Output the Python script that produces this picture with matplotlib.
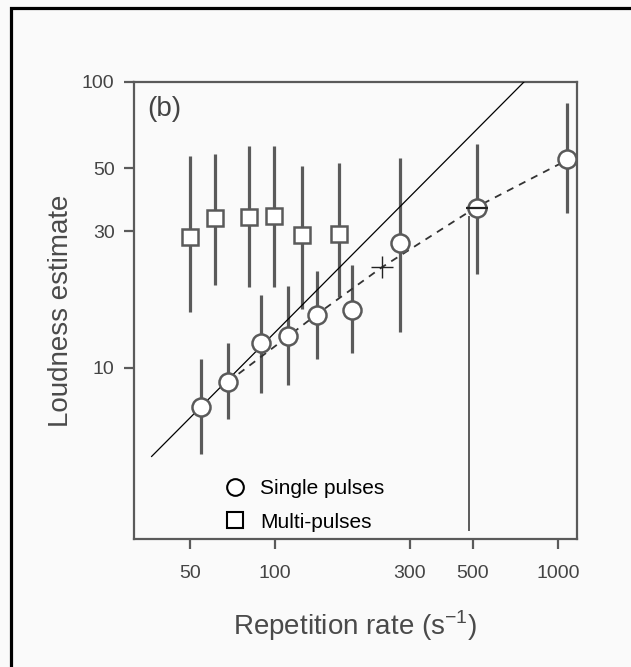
import matplotlib
matplotlib.use("Agg")
import matplotlib.pyplot as plt
from matplotlib.lines import Line2D
from matplotlib.patches import Rectangle
import numpy as np

plt.rcParams["font.family"] = ["Liberation Sans", "DejaVu Sans"]
plt.rcParams["mathtext.fontset"] = "custom"
plt.rcParams["mathtext.rm"] = "Liberation Sans"

# multi-pulse data (squares)
multi_x = [50, 61.4, 81, 99, 124.5, 168]
multi_y = [28.7, 33.4, 33.7, 34, 29.2, 29.4]
multi_lo = [15.7, 19.5, 19.2, 19.2, 16.1, 17.7]
multi_hi = [55, 56, 59.7, 59.7, 50.8, 52]

# single-pulse data (circles)
single_x = [54.8, 68.2, 89.2, 111, 140.7, 187, 277, 517, 1077]
single_y = [7.3, 8.93, 12.2, 12.9, 15.3, 16, 27.3, 36.2, 53.9]
single_lo = [5.0, 6.64, 8.2, 8.73, 10.7, 11.3, 13.4, 21.3, 34.8]
single_hi = [10.7, 12.2, 18, 19.4, 21.8, 22.9, 54.2, 60.7, 84.5]

# proportional line and dashed fit
line_x = [36.7, 758]
line_y = [4.9, 100]
fit_x = [68.2, 110.3, 139.6, 239, 517, 1076]
fit_y = [8.93, 12.8, 15.3, 22.5, 36.6, 53.3]

cross_x, cross_y = 239, 22.5
vline_x, vline_lo, vline_hi = 485, 2.72, 33.7

xticks = [50, 100, 300, 500, 1000]
yticks = [10, 30, 50, 100]

grey = "#5a5a5a"

fig = plt.figure(figsize=(6.31, 6.67), dpi=100, facecolor="#fafafa")
ax = fig.add_axes([134/631, 1-539/667, 443/631, 457/667])
ax.set_facecolor("#fafafa")
ax.set_xscale("log")
ax.set_yscale("log")
ax.set_xlim(31.8, 1167)
ax.set_ylim(2.52, 100)

# error bars
s_y = np.array(single_y)
m_y = np.array(multi_y)
ax.errorbar(multi_x, multi_y, yerr=[m_y - multi_lo, np.array(multi_hi) - m_y],
            fmt="none", ecolor=grey, elinewidth=2.3, capsize=0, zorder=2)
ax.errorbar(single_x, single_y, yerr=[s_y - single_lo, np.array(single_hi) - s_y],
            fmt="none", ecolor=grey, elinewidth=2.3, capsize=0, zorder=2)

ax.plot(line_x, line_y, color="black", lw=0.9, zorder=3)
ax.plot(fit_x, fit_y, color="#333333", lw=1.3, ls=(0, (4, 3.5)), zorder=3)
ax.plot([vline_x, vline_x], [vline_lo, vline_hi], color=grey, lw=1.4, zorder=2)

ax.plot(multi_x, multi_y, "s", ms=12, mfc="white", mec=grey, mew=1.8, zorder=4)
ax.plot(single_x, single_y, "o", ms=13, mfc="white", mec=grey, mew=1.8, zorder=4)
ax.plot([cross_x], [cross_y], "+", ms=16, color="#222222", mew=1.0, zorder=5)
ax.plot([single_x[7]], [single_y[7]], "_", ms=16, color="#222222", mew=1.6, zorder=5)

for sp in ax.spines.values():
    sp.set_color(grey)
    sp.set_linewidth(1.6)

ax.set_xticks(xticks)
ax.set_xticklabels([str(t) for t in xticks])
ax.set_yticks(yticks)
ax.set_yticklabels([str(t) for t in yticks])
ax.minorticks_off()
ax.tick_params(axis="both", direction="out", length=7, width=1.6, color=grey,
               labelsize=14, labelcolor="#444444")
ax.tick_params(axis="x", pad=12)
ax.tick_params(axis="y", pad=7)

ax.set_xlabel("Repetition rate (s$^{\\mathregular{-1}}$)", fontsize=20, color="#4a4a4a", labelpad=19)
ax.set_ylabel("Loudness estimate", fontsize=20, color="#4a4a4a", labelpad=6)

ax.text(0.031, 0.94, "(b)", transform=ax.transAxes, fontsize=20, color="#444444",
        ha="left", va="center")

handles = [Line2D([], [], ls="none", marker="o", ms=12, mfc="white", mec="black", mew=1.5),
           Line2D([], [], ls="none", marker="s", ms=12, mfc="white", mec="black", mew=1.5)]
ax.legend(handles, ["Single pulses", "Multi-pulses"], loc="lower left",
          bbox_to_anchor=(0.157, -0.025), frameon=False, fontsize=15,
          handletextpad=0.6, labelspacing=0.7, handlelength=1.2)

# outer frame (only the top and left edges fall inside the picture)
fig.patches.append(Rectangle((11/631, -0.05), 1.0, 1 - 8/667 + 0.05,
                             transform=fig.transFigure, fill=False,
                             edgecolor="black", lw=2.3))

fig.savefig("out.png", dpi=100, facecolor=fig.get_facecolor())
